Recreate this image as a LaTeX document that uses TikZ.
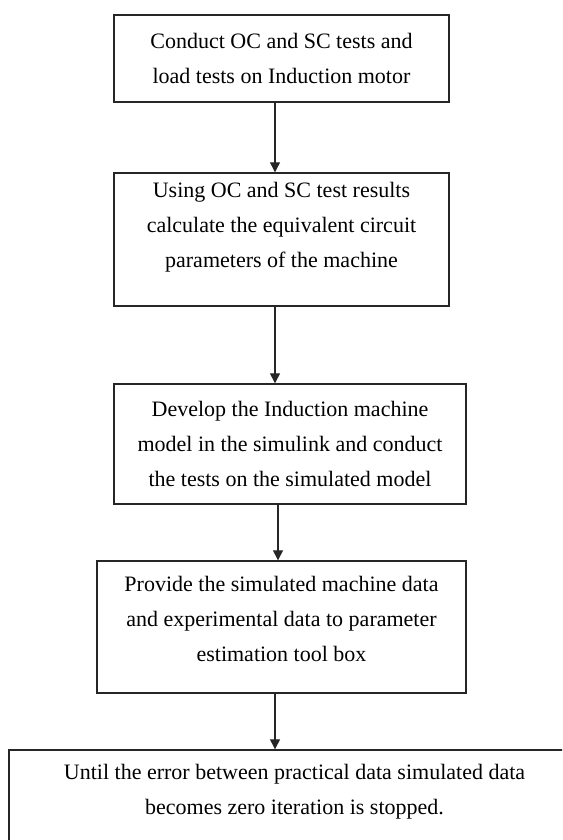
\documentclass[tikz,border=0pt]{standalone}
\usepackage{fontspec}
\setmainfont{Liberation Serif}
\usetikzlibrary{arrows.meta}
\begin{document}
\begin{tikzpicture}[x=1pt,y=-1pt,
  stepbox/.style={draw=black!85, line width=1.4pt, align=center, inner sep=0pt,
    font=\fontsize{22}{35}\selectfont, text=black},
  arr/.style={draw=black!85, line width=1.2pt, -{Triangle[width=10pt,length=10pt]}}]
\clip (0,0) rectangle (562,840);
\fill[white] (0,0) rectangle (562,840);
\node[stepbox, minimum width=335pt, minimum height=87pt] (b1) at (281.5,58.5)
  {Conduct OC and SC tests and\\load tests on Induction motor};
\node[stepbox, minimum width=335pt, minimum height=133pt, text depth=29pt] (b2) at (281.5,239.5)
  {Using OC and SC test results\\calculate the equivalent circuit\\parameters of the machine};
\node[stepbox, minimum width=352pt, minimum height=120pt] (b3) at (290,444)
  {Develop the Induction machine\\model in the simulink and conduct\\the tests on the simulated model};
\node[stepbox, minimum width=369pt, minimum height=132pt, text depth=16pt] (b4) at (281.5,627)
  {Provide the simulated machine data\\and experimental data to parameter\\estimation tool box};
\node[stepbox, minimum width=571pt, minimum height=100pt, text depth=22pt] (b5) at (294.5,800)
  {Until the error between practical data simulated data\\becomes zero iteration is stopped.};
\coordinate (a1) at (275,0);
\coordinate (a3) at (278,0);
\draw[arr] (b1.south -| a1) -- (b2.north -| a1);
\draw[arr] (b2.south -| a1) -- (b3.north -| a1);
\draw[arr] (b3.south -| a3) -- (b4.north -| a3);
\draw[arr] (b4.south -| a1) -- (b5.north -| a1);
\end{tikzpicture}
\end{document}
